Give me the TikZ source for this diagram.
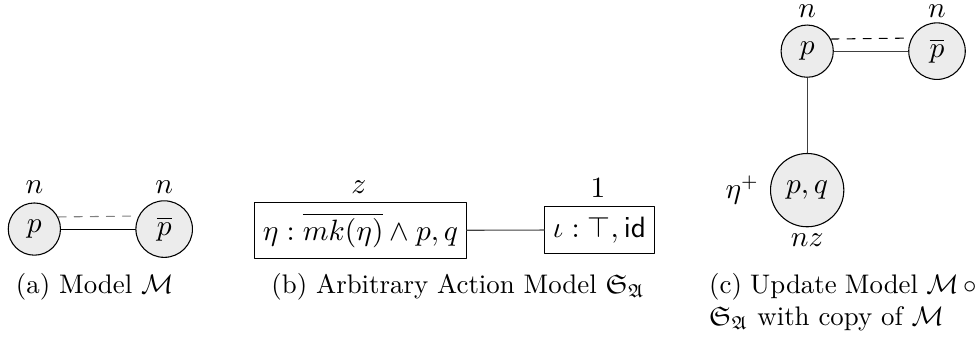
\documentclass[tikz,border=0pt]{standalone}
\usepackage{amsmath,amssymb}
\begin{document}
\begin{tikzpicture}[x=1cm,y=1cm,line cap=round,line join=round,
    world/.style={circle,draw,fill=gray!15,minimum size=.68cm,inner sep=3.8pt,
      font=\fontsize{10.5}{12.6}\selectfont},
    event/.style={rectangle,draw,inner xsep=3pt,inner ysep=4pt,
      font=\fontsize{10.5}{12.6}\selectfont},
    tag/.style={inner sep=1pt,font=\fontsize{10.5}{12.6}\selectfont}]
  \useasboundingbox (0,0) rectangle (12.82,4.43);
  % (a) model
  \node[world] (ap) at (.45,1.43) {$p$};
  \node[world] (apb) at (2.15,1.43) {$\overline{p}$};
  \node[tag] (apn) at (.45,1.98) {$n$};
  \node[tag] (apbn) at (2.15,1.98) {$n$};
  \draw (ap) -- (apb);
  \draw[gray,dashed] (ap.27) -- (apb.153);
  \node[anchor=base] (capa) at (1.24,.59) {(a) Model $\mathcal{M}$};
  % (b) action model
  \node[event] (eta) at (4.72,1.41) {$\eta:\overline{mk(\eta)}\wedge p,q$};
  \node[event] (iota) at (7.85,1.42) {$\iota:\top,\mathsf{id}$};
  \node[tag] (etaz) at (4.70,1.98) {$z$};
  \node[tag] (iota1) at (7.83,1.97) {$1$};
  \draw[black!75] (eta) -- (iota);
  \node[anchor=base] (capb) at (6.00,.59) {(b) Arbitrary Action Model $\mathfrak{S}_{\mathfrak{A}}$};
  % (c) update model
  \node[world] (cp) at (10.57,3.76) {$p$};
  \node[world] (cpb) at (12.27,3.76) {$\overline{p}$};
  \node[world] (cpq) at (10.57,1.94) {$p,q$};
  \node[tag] (cpn) at (10.57,4.28) {$n$};
  \node[tag] (cpbn) at (12.27,4.28) {$n$};
  \node[tag] (cpqe) at (9.72,1.94) {$\eta^{+}$};
  \node[tag] (cpqn) at (10.57,1.28) {$nz$};
  \draw[black!75] (cp) -- (cpb);
  \draw[dashed] (cp.27) -- (cpb.153);
  \draw[black!75] (cp) -- (cpq);
  \node[anchor=north west,inner sep=0pt,text width=3.5cm,align=justify] (capc) at (9.28,.854)
    {(c) Update Model $\mathcal{M}\circ\mathfrak{S}_{\mathfrak{A}}$ with copy of $\mathcal{M}$};
\end{tikzpicture}
\end{document}
